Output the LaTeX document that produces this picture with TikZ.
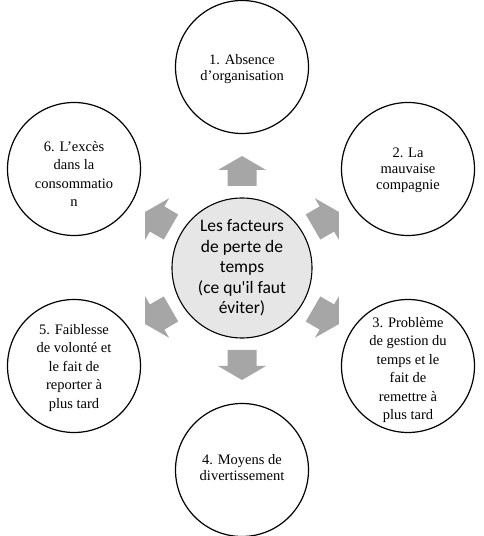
\documentclass[tikz,border=0pt]{standalone}
\usepackage{fontspec}
\setmainfont{Liberation Serif}
\newfontfamily\calibri{Carlito}
\usetikzlibrary{calc}
\definecolor{arrowgray}{RGB}{166,166,166}
\definecolor{centergray}{RGB}{230,230,230}
\tikzset{
  outercirc/.style={circle,draw=black,line width=1.2pt,fill=white,minimum size=133pt,inner sep=0pt},
  centercirc/.style={circle,draw=black,line width=1.1pt,fill=centergray,minimum size=140pt,inner sep=0pt},
  outertxt/.style={align=center,inner sep=0pt,font=\fontsize{14.5}{18.5}\selectfont},
  outertxttight/.style={align=center,inner sep=0pt,font=\fontsize{14.5}{16}\selectfont},
  centertxt/.style={align=center,inner sep=0pt,font=\calibri\fontsize{17.5}{20.5}\selectfont},
  arrowfill/.style={fill=arrowgray}
}
\newcommand\blockarrowat[1]{%
  \begin{scope}[shift={($(c0)+(#1:97pt)$)},rotate=#1]
    \fill[arrowfill] (-15pt,-14.5pt) -- (1pt,-14.5pt) -- (1pt,-24pt) -- (15pt,0pt) -- (1pt,24pt) -- (1pt,14.5pt) -- (-15pt,14.5pt) -- cycle;
  \end{scope}}
\begin{document}
\begin{tikzpicture}[x=1pt,y=1pt]
\useasboundingbox (0,0) rectangle (483,536);
\fill[white] (0,0) rectangle (483,536);
% centre
\node[centercirc] (c0) at (242,268) {};
\node[centertxt] (t0) at (242,268) {Les facteurs\\de perte de\\temps\\(ce qu'il faut\\éviter)};
% arrows
\blockarrowat{90}
\blockarrowat{30}
\blockarrowat{150}
\blockarrowat{210}
\blockarrowat{330}
\blockarrowat{270}
% outer circles
\node[outercirc] (c1) at (242,469) {};
\node[outercirc] (c2) at (408,367) {};
\node[outercirc] (c3) at (408,170) {};
\node[outercirc] (c4) at (242,66) {};
\node[outercirc] (c5) at (74,170) {};
\node[outercirc] (c6) at (74,367) {};
\node[outertxttight] (t1) at (242,467) {1. Absence\\d’organisation};
\node[outertxttight] (t2) at (408,366) {2. La\\mauvaise\\compagnie};
\node[outertxt] (t3) at (408,166) {3. Problème\\de gestion du\\temps et le\\fait de\\remettre à\\plus tard};
\node[outertxttight] (t4) at (242,68) {4. Moyens de\\divertissement};
\node[outertxt] (t5) at (74,168) {5. Faiblesse\\de volonté et\\le fait de\\reporter à\\plus tard};
\node[outertxt] (t6) at (74,362) {6. L’excès\\dans la\\consommatio\\n};
\end{tikzpicture}
\end{document}
